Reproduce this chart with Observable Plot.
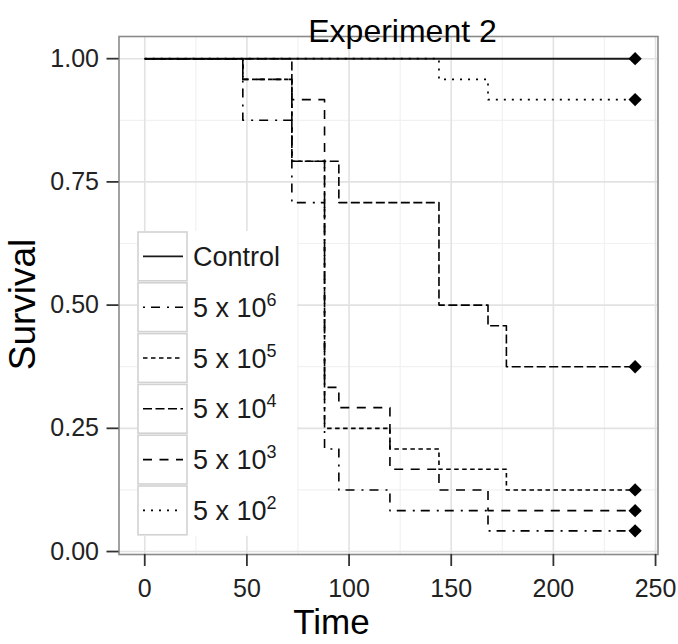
<!DOCTYPE html>
<html><head><meta charset="utf-8">
<script src="https://cdn.jsdelivr.net/npm/d3@7"></script>
<script src="https://cdn.jsdelivr.net/npm/@observablehq/plot@0.6"></script>
<style>body{margin:0;background:#fff}</style>
</head><body><div id="chart"></div>
<script>
// ---- data ----
const groups = ["Control", "5 x 10^6", "5 x 10^5", "5 x 10^4", "5 x 10^3", "5 x 10^2"];
const legendBase = ["Control", "5 x 10", "5 x 10", "5 x 10", "5 x 10", "5 x 10"];
const legendExp = ["", "6", "5", "4", "3", "2"];

const timeControl = [0, 240];
const survControl = [1, 1];
const time5e6 = [0, 48, 72, 88, 95, 120, 168, 240];
const surv5e6 = [1, 0.875, 0.708, 0.208, 0.125, 0.083, 0.042, 0.042];
const time5e5 = [0, 48, 72, 88, 120, 144, 177, 240];
const surv5e5 = [1, 0.958, 0.792, 0.25, 0.208, 0.167, 0.125, 0.125];
const time5e4 = [0, 72, 95, 144, 168, 177, 240];
const surv5e4 = [1, 0.792, 0.708, 0.5, 0.458, 0.375, 0.375];
const time5e3 = [0, 48, 72, 88, 95, 120, 144, 168, 240];
const surv5e3 = [1, 0.958, 0.917, 0.333, 0.292, 0.167, 0.125, 0.083, 0.083];
const time5e2 = [0, 144, 168, 240];
const surv5e2 = [1, 0.958, 0.917, 0.917];

const xTicks = [0, 50, 100, 150, 200, 250];
const xMinor = [25, 75, 125, 175, 225];
const yTicks = [0, 0.25, 0.5, 0.75, 1];
const yMinor = [0.125, 0.375, 0.625, 0.875];

// ---- styles ----
const dashes = [null, "2,6,9,7", "4.5,3.5", "9,3.5", "9,7.5", "2,6"];
const widths = [1.9, 1.6, 1.6, 1.6, 1.6, 1.7];
const lineColors = ["#1a1a1a", "#000", "#000", "#000", "#000", "#000"];

const allTimes = [timeControl, time5e6, time5e5, time5e4, time5e3, time5e2];
const allSurv = [survControl, surv5e6, surv5e5, surv5e4, surv5e3, surv5e2];

const series = groups.map((g, i) => allTimes[i].map((t, j) => ({group: g, time: t, surv: allSurv[i][j]})));
const endPoints = series.map(s => s[s.length - 1]);

const font = "'Liberation Sans', Arial, Helvetica, sans-serif";

const lineMarks = series.map((s, i) => Plot.line(s, {
  x: "time", y: "surv", curve: "step-after",
  stroke: lineColors[i], strokeWidth: widths[i],
  strokeDasharray: dashes[i] ?? undefined, strokeLinecap: "butt"
}));

const chart = Plot.plot({
  width: 678, height: 644,
  marginLeft: 118.5, marginRight: 20.5, marginTop: 36, marginBottom: 90,
  x: {domain: [-12.6, 251.2]},
  y: {domain: [-0.006, 1.045]},
  style: {fontFamily: font, background: "white", color: "#222"},
  marks: [
    Plot.gridX(xMinor, {stroke: "#f1f1f1", strokeOpacity: 1, strokeWidth: 1.2}),
    Plot.gridY(yMinor, {stroke: "#f1f1f1", strokeOpacity: 1, strokeWidth: 1.2}),
    Plot.gridX(xTicks, {stroke: "#e2e2e2", strokeOpacity: 1, strokeWidth: 1.6}),
    Plot.gridY(yTicks, {stroke: "#e2e2e2", strokeOpacity: 1, strokeWidth: 1.6}),
    ...lineMarks,
    Plot.dot(endPoints, {x: "time", y: "surv", symbol: "diamond2", r: 6, fill: "#000", stroke: "none"}),
    Plot.frame({stroke: "#8a8a8a", strokeWidth: 1.6}),
    Plot.axisX(xTicks, {tickSize: 12, tickPadding: 13, fontSize: 25, stroke: "#333", strokeWidth: 1.8, fill: "#222", label: null, tickFormat: d => String(d)}),
    Plot.axisY(yTicks, {tickSize: 12, tickPadding: 8, fontSize: 25, stroke: "#333", strokeWidth: 1.8, fill: "#222", label: null, tickFormat: d => d.toFixed(2)}),
    Plot.text(["Experiment 2"], {text: d => d, frameAnchor: "top", textAnchor: "middle", lineAnchor: "middle", dx: 14, dy: -5, fontSize: 32, fill: "#000"}),
    Plot.text(["Time"], {text: d => d, frameAnchor: "bottom", textAnchor: "middle", lineAnchor: "middle", dx: -57, dy: 68, fontSize: 35, fill: "#000"}),
    Plot.text(["Survival"], {text: d => d, frameAnchor: "left", textAnchor: "middle", lineAnchor: "middle", rotate: -90, dx: -96, dy: 9, fontSize: 37, fill: "#000"})
  ]
});

// ---- legend (inside panel) ----
const svg = d3.select(chart);
const lx = 137, ly = 231, keyW = 51, keyH = 50.8, legW = 160;
const leg = svg.append("g").attr("font-family", font).attr("text-anchor", "start");
leg.append("rect").attr("x", lx).attr("y", ly).attr("width", legW).attr("height", keyH * groups.length).attr("fill", "#fff");
groups.forEach((g, i) => {
  const y0 = ly + i * keyH;
  const cy = y0 + keyH / 2;
  leg.append("rect").attr("x", lx + 1).attr("y", y0 + 1).attr("width", keyW - 2).attr("height", keyH - 2)
    .attr("fill", "#fff").attr("stroke", "#d2d2d2").attr("stroke-width", 1.6);
  const ln = leg.append("line").attr("x1", lx + 6).attr("x2", lx + 46).attr("y1", cy).attr("y2", cy)
    .attr("stroke", lineColors[i]).attr("stroke-width", widths[i]);
  if (dashes[i]) ln.attr("stroke-dasharray", dashes[i]);
  const t = leg.append("text").attr("x", lx + 56).attr("y", cy + 9.5).attr("font-size", 27)
    .attr("fill", "#1a1a1a").attr("text-anchor", "start");
  t.append("tspan").text(legendBase[i]);
  if (legendExp[i]) t.append("tspan").attr("dy", -11).attr("font-size", 18).text(legendExp[i]);
});

document.getElementById("chart").append(chart);
</script>
</body></html>
